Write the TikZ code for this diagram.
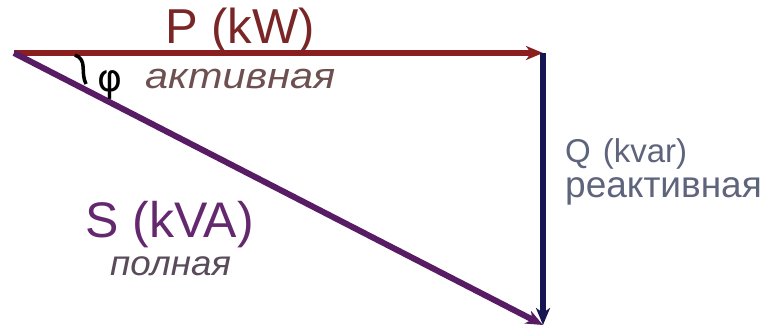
\documentclass[tikz,border=0pt]{standalone}
\usepackage{fontspec}
\setmainfont{Liberation Sans}
\newfontfamily\phifont{DejaVu Sans}
\usetikzlibrary{arrows.meta}
\definecolor{pline}{RGB}{139,30,30}
\definecolor{ptext}{RGB}{122,38,38}
\definecolor{qline}{RGB}{22,22,82}
\definecolor{sline}{RGB}{88,28,100}
\definecolor{stext}{RGB}{100,40,110}
\definecolor{qtext}{RGB}{95,100,125}
\definecolor{akttext}{RGB}{110,80,80}
\definecolor{polntext}{RGB}{90,75,90}
\tikzset{
  vec/.style={line width=6pt, -{Stealth[length=17pt,width=14pt,inset=5pt]}},
  lbl/.style={inner sep=0pt, anchor=base west},
}
\begin{document}
\begin{tikzpicture}[x=1pt,y=-1pt]
\useasboundingbox (0,0) rectangle (769,336);
\coordinate (O) at (14,53);
\coordinate (A) at (543,53);
\coordinate (B) at (543,325);
\draw[vec, draw=pline, fill=pline] (O) -- (A);
\draw[vec, draw=qline, fill=qline] (A) -- (B);
\draw[vec, draw=sline, fill=sline] (O) -- (B);
\draw[line width=3.5pt, black] (75,55) .. controls (88,60) and (80,72) .. (86,84);
\node[lbl, text=ptext, font=\fontsize{49}{49}\selectfont] (P) at (165,44) {P (kW)};
\node[lbl, text=black, font=\phifont\fontsize{38}{38}\selectfont] (phi) at (97,92) {φ};
\node[lbl, text=akttext, font=\itshape\fontsize{36}{36}\selectfont] (akt) at (145,89) {\scalebox{1.15}[1]{активная}};
\node[lbl, text=qtext, font=\fontsize{33}{33}\selectfont] (Q) at (565,163) {Q\hspace{12pt}(kvar)};
\node[lbl, text=qtext, font=\fontsize{37}{37}\selectfont] (reakt) at (565,198) {реактивная};
\node[lbl, text=stext, font=\fontsize{50}{50}\selectfont] (S) at (85,238) {S (kVA)};
\node[lbl, text=polntext, font=\itshape\fontsize{35}{35}\selectfont] (poln) at (110,276) {\scalebox{1.05}[1]{полная}};
\end{tikzpicture}
\end{document}
